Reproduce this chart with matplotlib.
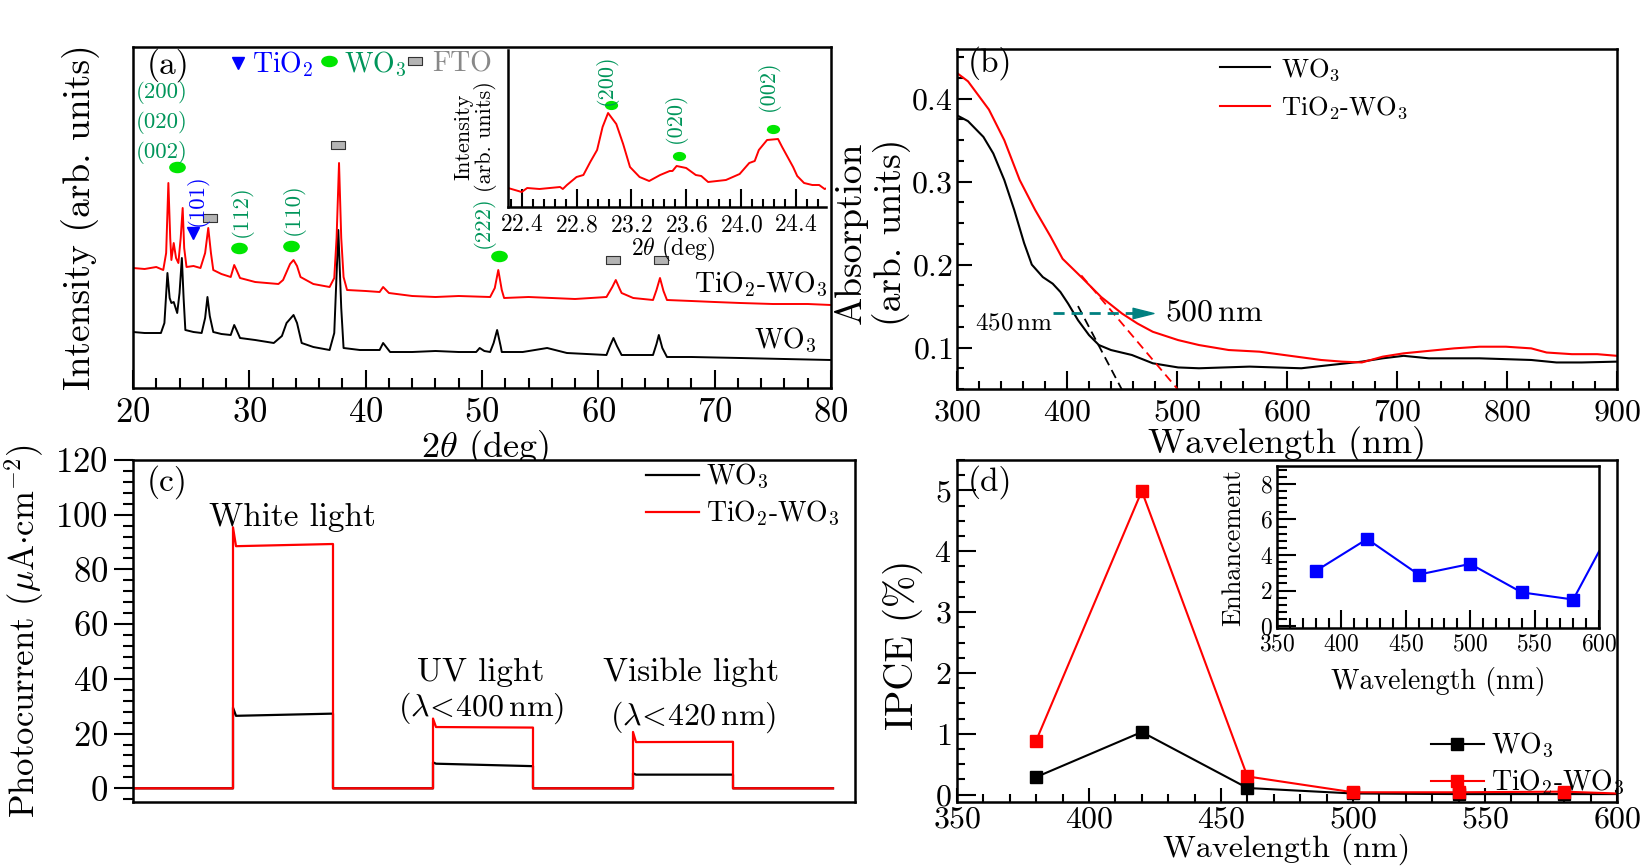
import matplotlib.pyplot as plt
from matplotlib.path import Path
from matplotlib.transforms import Affine2D
from matplotlib.ticker import MultipleLocator

plt.rcParams['font.family'] = 'serif'
plt.rcParams['font.serif'] = ['cmr10']
plt.rcParams['mathtext.fontset'] = 'cm'
plt.rcParams['axes.unicode_minus'] = False
plt.rcParams['axes.formatter.use_mathtext'] = True
plt.rcParams['axes.linewidth'] = 1.8

# ---------------- data ----------------
# (a) XRD, intensity in arbitrary units
xrd_tw_2theta = [20.0, 21.0, 22.0, 22.6, 22.85, 23.04, 23.2, 23.3, 23.5, 23.7, 23.9, 24.1, 24.27, 24.4, 24.6,
                 25.2, 25.8, 26.2, 26.47, 26.7, 26.9, 27.6, 28.4, 28.7, 28.9, 29.2, 30.5, 31.5, 32.5, 32.9,
                 33.5, 33.8, 34.1, 34.4, 35.5, 36.9, 37.3, 37.5, 37.71, 37.9, 38.1, 38.4, 40.0, 41.2, 41.5,
                 42.0, 44.0, 46.0, 48.0, 50.7, 51.1, 51.4, 51.7, 51.9, 54.0, 56.0, 58.0, 60.7, 61.2, 61.5,
                 61.8, 62.0, 63.0, 64.7, 65.0, 65.3, 65.6, 65.9, 68.0, 70.0, 72.2, 75.0, 78.0, 80.0]
xrd_tw_int = [120, 119, 121, 118, 135, 205, 150, 128, 145, 130, 125, 150, 180, 140, 121,
              122, 120, 135, 160, 135, 118, 114, 111, 123, 118, 110, 106, 105, 104, 108,
              124, 128, 122, 111, 104, 101, 110, 150, 225, 150, 111, 98, 97, 96, 101,
              95, 92, 91, 92, 91, 100, 118, 98, 90, 91, 90, 89, 91, 101, 108,
              100, 95, 90, 88, 98, 110, 97, 88, 87, 86, 85, 84, 84, 83]
xrd_w_2theta = [20.0, 21.0, 22.4, 22.7, 22.96, 23.15, 23.3, 23.5, 23.8, 24.0, 24.2, 24.35, 24.5, 25.2, 25.9,
                26.2, 26.4, 26.6, 26.9, 27.6, 28.4, 28.7, 28.9, 29.2, 30.5, 32.1, 32.8, 33.2, 33.8, 34.1,
                34.5, 35.5, 36.9, 37.3, 37.65, 37.9, 38.1, 39.5, 41.2, 41.5, 42.1, 44.0, 46.0, 48.0, 49.5,
                49.8, 50.2, 50.7, 51.0, 51.3, 51.6, 51.7, 53.5, 55.6, 57.3, 59.0, 60.7, 61.0, 61.3, 61.6,
                62.0, 63.5, 64.7, 65.0, 65.2, 65.5, 65.9, 68.0, 72.2, 76.0, 80.0]
xrd_w_int = [56, 55, 55, 65, 115, 90, 85, 86, 75, 95, 130, 90, 58, 56, 55,
             70, 91, 72, 56, 54, 53, 63, 58, 50, 48, 45, 52, 65, 73, 65,
             45, 41, 38, 55, 158, 80, 40, 38, 38, 45, 36, 36, 37, 36, 36,
             40, 37, 36, 45, 58, 42, 36, 36, 40, 35, 34, 33, 42, 50, 42,
             33, 33, 33, 44, 53, 40, 31, 31, 30, 29, 28]
wo3_mark_x = [23.8, 29.1, 33.6, 51.5]
wo3_mark_y = [221, 140, 142, 132]
tio2_mark_x = [25.2]
tio2_mark_y = [155]
fto_mark_x = [26.6, 37.6, 61.3, 65.4]
fto_mark_y = [170, 243, 128, 128]
hkl_stack = ['(200)', '(020)', '(002)']
hkl_stack_y = [296, 266, 235]
hkl_rot = ['(112)', '(110)', '(222)']
hkl_rot_x = [29.3, 33.8, 50.1]
hkl_rot_y = [177, 179, 166]

# (a) inset
ins_2theta = [22.30, 22.40, 22.44, 22.53, 22.68, 22.70, 22.73, 22.80, 22.85, 22.90, 22.95, 22.99, 23.03,
              23.09, 23.14, 23.19, 23.26, 23.33, 23.41, 23.48, 23.50, 23.53, 23.60, 23.67, 23.71, 23.76,
              23.89, 23.99, 24.06, 24.10, 24.13, 24.19, 24.27, 24.30, 24.38, 24.41, 24.46, 24.52, 24.57,
              24.61, 24.65]
ins_int = [19, 15, 19, 18, 20, 18, 22, 30, 32, 45, 57, 80, 94,
           83, 63, 40, 30, 26, 32, 36, 36, 41, 39, 32, 31, 25,
           27, 33, 44, 46, 57, 67, 68, 60, 40, 31, 24, 22, 22,
           18, 20]
ins_mark_x = [23.05, 23.55, 24.23]
ins_mark_y = [102, 51, 78]
ins_lab = ['(200)', '(020)', '(002)']
ins_lab_y = [127, 89, 121]

# (b) absorption
wl_w = [300, 310, 324, 333, 343, 352, 361, 368, 378, 387, 394, 401, 410, 420, 429, 440, 459, 478, 501,
        520, 566, 613, 640, 668, 687, 706, 729, 775, 822, 845, 868, 900]
abs_w = [0.380, 0.373, 0.354, 0.334, 0.302, 0.266, 0.226, 0.200, 0.185, 0.177, 0.167, 0.153, 0.133, 0.115,
         0.103, 0.097, 0.091, 0.081, 0.076, 0.075, 0.077, 0.075, 0.079, 0.083, 0.087, 0.090, 0.087, 0.087,
         0.085, 0.082, 0.082, 0.083]
wl_tw = [300, 310, 329, 343, 357, 371, 385, 396, 413, 431, 450, 464, 478, 501, 520, 547, 575, 603, 631,
         650, 668, 687, 706, 729, 752, 775, 799, 822, 836, 859, 882, 900]
abs_tw = [0.431, 0.421, 0.387, 0.350, 0.302, 0.266, 0.234, 0.207, 0.185, 0.161, 0.141, 0.129, 0.119, 0.109,
          0.103, 0.097, 0.095, 0.090, 0.085, 0.083, 0.082, 0.089, 0.093, 0.096, 0.099, 0.101, 0.101, 0.099,
          0.094, 0.092, 0.092, 0.090]
edge_w_x = [410, 452]
edge_w_y = [0.150, 0.044]
edge_tw_x = [413, 503]
edge_tw_y = [0.187, 0.046]
shift_x = [387, 462]
shift_y = 0.142

# (c) photocurrent, on/off cycles (s)
t_on = [50, 150, 250]
t_off = [100, 200, 300]
t_end = 350
pc_w_start = [26.5, 9.0, 5.0]
pc_w_end = [27.3, 8.1, 5.0]
pc_w_spike = [29.5, 9.5, 5.5]
pc_tw_start = [88.5, 22.4, 16.9]
pc_tw_end = [89.3, 22.2, 17.0]
pc_tw_spike = [95.4, 25.5, 20.6]

# (d) IPCE
ipce_wl = [380, 420, 460, 500, 540, 580, 600]
ipce_w = [0.29, 1.03, 0.11, 0.02, 0.01, 0.01, 0.01]
ipce_tw = [0.89, 4.99, 0.30, 0.04, 0.04, 0.05, 0.02]
enh = [3.1, 4.9, 2.9, 3.5, 1.9, 1.5, 4.2]

GREEN_TXT = '#00955a'
GREEN_DOT = '#00e600'
GRAY_BOX = '#b4b4b4'
TEAL = '#008080'

ellipse = Path.unit_circle().transformed(Affine2D().scale(1.0, 0.66))
rect = Path([(-1, -0.6), (1, -0.6), (1, 0.6), (-1, 0.6), (-1, -0.6)], closed=True)
head = Path([(-1, -0.5), (1, 0), (-1, 0.5), (-1, -0.5)], closed=True)

fig = plt.figure(figsize=(16.42, 8.67), dpi=100)
W, H = 1642, 867


def box(l, t, r, b):
    return [l / W, 1 - b / H, (r - l) / W, (b - t) / H]


def in_ticks(ax, axis, maj, mnr, size=22, pad=6):
    ax.tick_params(axis=axis, which='major', direction='in', length=maj, width=1.5, labelsize=size, pad=pad)
    ax.tick_params(axis=axis, which='minor', direction='in', length=mnr, width=1.5)


# ---------------- (a) ----------------
ax = fig.add_axes(box(133, 47, 831, 388))
ax.plot(xrd_w_2theta, xrd_w_int, color='black', lw=1.4)
ax.plot(xrd_tw_2theta, xrd_tw_int, color='red', lw=1.4)
ax.set_xlim(20, 80)
ax.set_ylim(0, 341)
ax.set_yticks([])
ax.xaxis.set_major_locator(MultipleLocator(10))
ax.xaxis.set_minor_locator(MultipleLocator(2))
in_ticks(ax, 'x', 13, 7, size=25, pad=7)
ax.set_xlabel(r'$2\theta$ (deg)', fontsize=26)
ax.xaxis.set_label_coords(0.504, -0.117)
ax.set_ylabel('Intensity (arb. units)', fontsize=27)
ax.yaxis.set_label_coords(-0.047, 0.5)

ax.plot(wo3_mark_x, wo3_mark_y, ls='none', marker=ellipse, ms=11, color=GREEN_DOT)
ax.plot(tio2_mark_x, tio2_mark_y, ls='none', marker='v', ms=9, color='blue')
ax.plot(fto_mark_x, fto_mark_y, ls='none', marker=rect, ms=9.5, mfc=GRAY_BOX, mec='#333333', mew=0.8)
for lab, yy in zip(hkl_stack, hkl_stack_y):
    ax.text(22.5, yy, lab, color=GREEN_TXT, fontsize=16.5, ha='center', va='center')
for lab, xx, yy in zip(hkl_rot, hkl_rot_x, hkl_rot_y):
    ax.text(xx, yy, lab, color=GREEN_TXT, fontsize=16.5, ha='center', va='center', rotation=90)
ax.text(25.5, 188, '(101)', color='blue', fontsize=16.5, ha='center', va='center', rotation=90)

ax.text(0.019, 0.947, '(a)', transform=ax.transAxes, fontsize=24, va='center')
ax.plot(0.150, 0.953, transform=ax.transAxes, marker='v', ms=9, color='blue', clip_on=False)
ax.text(0.170, 0.950, r'TiO$_2$', transform=ax.transAxes, fontsize=20, color='blue', va='center')
ax.plot(0.281, 0.959, transform=ax.transAxes, marker=ellipse, ms=11, color=GREEN_DOT, clip_on=False)
ax.text(0.302, 0.950, r'WO$_3$', transform=ax.transAxes, fontsize=20, color=GREEN_TXT, va='center')
ax.plot(0.404, 0.959, transform=ax.transAxes, marker=rect, ms=9.5, mfc=GRAY_BOX, mec='#333333', mew=0.8,
        clip_on=False)
ax.text(0.428, 0.950, 'FTO', transform=ax.transAxes, fontsize=20, color='#888888', va='center')
ax.text(0.900, 0.303, r'TiO$_2$-WO$_3$', transform=ax.transAxes, fontsize=20, ha='center', va='center')
ax.text(0.935, 0.140, r'WO$_3$', transform=ax.transAxes, fontsize=20, ha='center', va='center')

# inset of (a)
ai = fig.add_axes(box(508, 50, 826, 207))
ai.patch.set_alpha(0)
ai.plot(ins_2theta, ins_int, color='red', lw=1.4)
ai.plot(ins_mark_x, ins_mark_y, ls='none', marker=ellipse, ms=8.5, color=GREEN_DOT)
for lab, xx, yy in zip(ins_lab, ins_mark_x, ins_lab_y):
    ai.text(xx - 0.03, yy, lab, color=GREEN_TXT, fontsize=16, ha='center', va='center', rotation=90)
ai.set_xlim(22.3, 24.62)
ai.set_ylim(0, 157)
ai.set_yticks([])
ai.spines['top'].set_visible(False)
ai.spines['right'].set_visible(False)
ai.set_xticks([22.4, 22.8, 23.2, 23.6, 24.0, 24.4])
ai.xaxis.set_minor_locator(MultipleLocator(0.08))
in_ticks(ai, 'x', 13, 6, size=17, pad=5)
ai.set_xlabel(r'$2\theta$ (deg)', fontsize=17)
ai.xaxis.set_label_coords(0.52, -0.175)
ai.set_ylabel('Intensity\n(arb. units)', fontsize=16, linespacing=1.0)
ai.yaxis.set_label_coords(-0.035, 0.45)

# ---------------- (b) ----------------
bx = fig.add_axes(box(957, 49, 1617, 389))
bx.plot(wl_w, abs_w, color='black', lw=1.5, label=r'WO$_3$')
bx.plot(wl_tw, abs_tw, color='red', lw=1.5, label=r'TiO$_2$-WO$_3$')
bx.plot(edge_w_x, edge_w_y, color='black', ls=(0, (5, 3)), lw=1.3)
bx.plot(edge_tw_x, edge_tw_y, color='red', ls=(0, (5, 3)), lw=1.3)
bx.plot(shift_x, [shift_y, shift_y], color=TEAL, ls=(0, (4, 2.5)), lw=2)
bx.plot(469, shift_y, marker=head, ms=15, color=TEAL, ls='none')
bx.text(316, 0.129, r'450$\,$nm', fontsize=18, va='center')
bx.text(489, 0.142, r'500$\,$nm', fontsize=23, va='center')
bx.set_xlim(300, 900)
bx.set_ylim(0.05, 0.46)
bx.xaxis.set_major_locator(MultipleLocator(100))
bx.xaxis.set_minor_locator(MultipleLocator(20))
bx.set_yticks([0.1, 0.2, 0.3, 0.4])
bx.yaxis.set_minor_locator(MultipleLocator(0.025))
in_ticks(bx, 'x', 13, 6, size=23, pad=7)
in_ticks(bx, 'y', 11, 5, size=23, pad=3)
bx.set_xlabel('Wavelength (nm)', fontsize=26)
bx.xaxis.set_label_coords(0.5, -0.11)
bx.set_ylabel('Absorption\n(arb. units)', fontsize=27, linespacing=1.15)
bx.yaxis.set_label_coords(-0.07, 0.46)
bx.text(0.017, 0.959, '(b)', transform=bx.transAxes, fontsize=24, va='center')
bx.legend(loc='upper left', bbox_to_anchor=(1220 / W, 1 - 56 / H), bbox_transform=fig.transFigure,
          frameon=False, fontsize=19, handlelength=1.9, handletextpad=0.4, labelspacing=0.45,
          borderpad=0, borderaxespad=0)

# ---------------- (c) ----------------
cx = fig.add_axes(box(133, 460, 855, 802))
for vals_start, vals_end, spikes, col in [(pc_w_start, pc_w_end, pc_w_spike, 'black'),
                                          (pc_tw_start, pc_tw_end, pc_tw_spike, 'red')]:
    tt, yy = [0], [0]
    for on, off, a, b, s in zip(t_on, t_off, vals_start, vals_end, spikes):
        tt += [on, on, on + 1.5, off, off]
        yy += [0, s, a, b, 0]
    tt.append(t_end)
    yy.append(0)
    cx.plot(tt, yy, color=col, lw=1.6, label=r'WO$_3$' if col == 'black' else r'TiO$_2$-WO$_3$')
cx.set_xlim(0, 361)
cx.set_ylim(-5, 120)
cx.set_xticks([])
cx.yaxis.set_major_locator(MultipleLocator(20))
cx.yaxis.set_minor_locator(MultipleLocator(4))
cx.tick_params(axis='y', which='major', direction='out', length=14, width=1.5, labelsize=25, pad=4)
cx.tick_params(axis='y', which='minor', direction='out', length=7, width=1.5)
cx.set_ylabel(r'Photocurrent ($\mu$A$\cdot$cm$^{-2}$)', fontsize=25)
cx.yaxis.set_label_coords(-0.12, 0.5)
cx.text(0.019, 0.936, '(c)', transform=cx.transAxes, fontsize=24, va='center')
cx.text(79.5, 99, 'White light', fontsize=24, ha='center', va='center')
cx.text(174, 42.4, 'UV light', fontsize=24, ha='center', va='center')
cx.text(174, 29.3, r'($\lambda\!<\!400\,$nm)', fontsize=23, ha='center', va='center')
cx.text(279, 42.4, 'Visible light', fontsize=24, ha='center', va='center')
cx.text(280, 26, r'($\lambda\!<\!420\,$nm)', fontsize=23, ha='center', va='center')
cx.legend(loc='upper left', bbox_to_anchor=(646 / W, 1 - 462 / H), bbox_transform=fig.transFigure,
          frameon=False, fontsize=20, handlelength=1.9, handletextpad=0.25, labelspacing=0.3,
          borderpad=0, borderaxespad=0)

# ---------------- (d) ----------------
dx = fig.add_axes(box(957, 460, 1617, 802))
dx.plot(ipce_wl, ipce_w, color='black', lw=1.5, marker='s', ms=9, markevery=list(range(6)), label=r'WO$_3$')
dx.plot(ipce_wl, ipce_tw, color='red', lw=1.5, marker='s', ms=9, markevery=list(range(6)),
        label=r'TiO$_2$-WO$_3$')
dx.set_xlim(350, 600)
dx.set_ylim(-0.12, 5.5)
dx.xaxis.set_major_locator(MultipleLocator(50))
dx.xaxis.set_minor_locator(MultipleLocator(10))
dx.yaxis.set_major_locator(MultipleLocator(1))
dx.yaxis.set_minor_locator(MultipleLocator(0.25))
in_ticks(dx, 'x', 10, 6, size=23, pad=3)
in_ticks(dx, 'y', 14, 6, size=23, pad=4)
dx.set_xlabel('Wavelength (nm)', fontsize=23)
dx.xaxis.set_label_coords(0.5, -0.092)
dx.set_ylabel('IPCE (%)', fontsize=28)
dx.yaxis.set_label_coords(-0.052, 0.46)
dx.text(0.017, 0.936, '(d)', transform=dx.transAxes, fontsize=24, va='center')
dx.legend(loc='upper left', bbox_to_anchor=(1431 / W, 1 - 731 / H), bbox_transform=fig.transFigure,
          frameon=False, fontsize=20, handlelength=1.9, handletextpad=0.25, labelspacing=0.3,
          borderpad=0, borderaxespad=0)

# inset of (d)
di = fig.add_axes(box(1277, 466, 1599, 628))
di.plot(ipce_wl, enh, color='blue', lw=1.5, marker='s', ms=9, markevery=list(range(6)))
di.set_xlim(350, 600)
di.set_ylim(-0.1, 9)
di.xaxis.set_major_locator(MultipleLocator(50))
di.xaxis.set_minor_locator(MultipleLocator(10))
di.yaxis.set_major_locator(MultipleLocator(2))
di.yaxis.set_minor_locator(MultipleLocator(0.4))
in_ticks(di, 'x', 13, 7, size=17, pad=4)
in_ticks(di, 'y', 14, 7, size=17, pad=3)
di.set_xlabel('Wavelength (nm)', fontsize=20)
di.xaxis.set_label_coords(0.5, -0.24)
di.set_ylabel('Enhancement', fontsize=19)
di.yaxis.set_label_coords(-0.1, 0.5)

fig.savefig('out.png', dpi=100)
